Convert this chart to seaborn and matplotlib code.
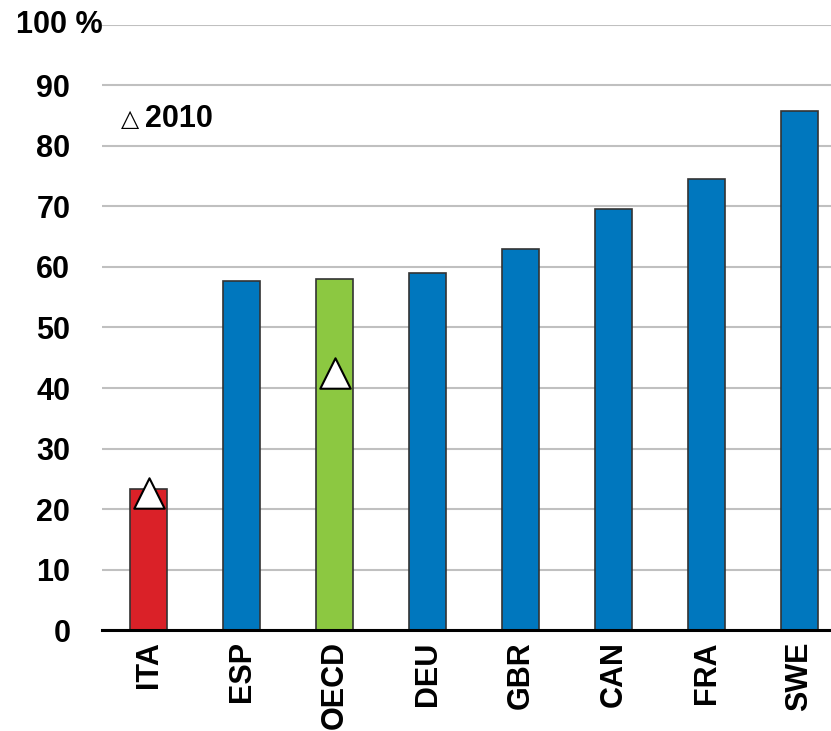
import matplotlib
matplotlib.use("Agg")
import matplotlib.pyplot as plt
import seaborn as sns
import pandas as pd
import numpy as np

# Data
countries = ["ITA", "ESP", "OECD", "DEU", "GBR", "CAN", "FRA", "SWE"]
values = [23.3, 57.7, 58.0, 59.0, 63.0, 69.6, 74.5, 85.8]
groups = ["ita", "other", "oecd", "other", "other", "other", "other", "other"]
countries_2010 = ["ITA", "OECD"]
values_2010 = [22.6, 42.5]
ytick_vals = list(range(0, 100, 10))

sns.set_style("white")
plt.rcParams["font.family"] = ["Liberation Sans", "DejaVu Sans"]
plt.rcParams["font.weight"] = "bold"
plt.rcParams["text.color"] = "black"
plt.rcParams["xtick.color"] = "black"
plt.rcParams["ytick.color"] = "black"

df = pd.DataFrame({"country": countries, "value": values, "group": groups})
palette = {"ita": "#DA2128", "other": "#0077BE", "oecd": "#8CC841"}

fig = plt.figure(figsize=(8.31, 7.31), dpi=100)
# plot area runs slightly past the right edge, as in the original
ax = fig.add_axes([0.123, 0.138, 0.895, 0.828])

sns.barplot(data=df, x="country", y="value", hue="group", palette=palette,
            dodge=False, width=0.4, saturation=1, edgecolor="#333333",
            linewidth=1.2, legend=False, ax=ax, zorder=2)

sns.scatterplot(x=countries_2010, y=values_2010, marker="^", s=480,
                color="white", edgecolor="black", linewidth=1.5, ax=ax, zorder=3)

ax.set_xlim(-0.5, len(countries) - 0.5)
ax.set_ylim(0, 100)
ax.set_yticks(range(0, 101, 10))
ax.set_yticklabels([str(v) for v in ytick_vals] + [""])
ax.yaxis.grid(True, color="#C0C0C0", linewidth=1.5, zorder=0)
ax.set_axisbelow(True)
ax.text(0.0, 100, "100 %", transform=ax.get_yaxis_transform(), ha="right",
        va="center", fontsize=22, fontweight="bold")

ax.set_xticks(np.arange(len(countries)))
ax.set_xticklabels(countries, rotation=90)
ax.set_xticks(np.arange(-0.5, len(countries)), minor=True)
ax.tick_params(axis="x", which="major", length=0, pad=8, labelsize=22)
ax.tick_params(axis="x", which="minor", direction="in", length=8, width=2, color="black")
ax.tick_params(axis="y", length=0, pad=23, labelsize=22)

for s in ["left", "right", "top"]:
    ax.spines[s].set_visible(False)
ax.spines["bottom"].set_linewidth(2.2)
ax.spines["bottom"].set_color("black")

ax.set_xlabel("")
ax.set_ylabel("")
ax.text(0.025, 0.845, "\u25b3", transform=ax.transAxes, fontsize=17,
        family=["DejaVu Sans"], fontweight="normal", va="center")
ax.text(0.058, 0.845, "2010", transform=ax.transAxes, fontsize=22,
        fontweight="bold", va="center")

fig.savefig("out.png", dpi=100)
